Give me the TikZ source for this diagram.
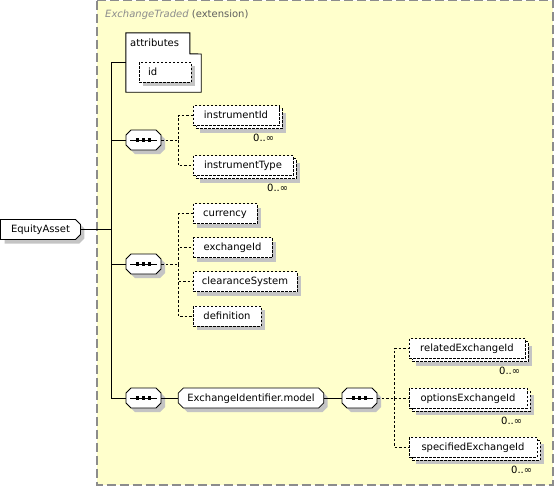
\documentclass[tikz,border=0pt]{standalone}
\usepackage{fontspec}
\setmainfont{DejaVu Sans}
\usetikzlibrary{positioning,shapes.misc,shadows}
\definecolor{extfill}{HTML}{FFFFCC}
\definecolor{extedge}{HTML}{8C8C8C}
\definecolor{shade}{HTML}{C4C4C4}
\definecolor{muted}{HTML}{8C8C8C}
\definecolor{muted2}{HTML}{5F5F5F}
\tikzset{
  every node/.style={font=\fontsize{10}{12}\selectfont, text height=8pt, text depth=2pt},
  ebase/.style ={draw, fill=white, dash pattern=on 2.5pt off 1.5pt, line width=0.8pt,
                 minimum height=20pt, inner sep=0pt},
  % optional element: dashed box with grey shadow
  elem/.style  ={ebase, drop shadow={shadow xshift=4pt, shadow yshift=-4pt,
                 fill=shade, opacity=1, draw=none}},
  % repeated element: stacked copy behind
  multi/.style ={ebase, drop shadow={shadow xshift=7pt, shadow yshift=-7pt,
                 fill=shade, opacity=1, draw=none},
                 copy shadow={shadow xshift=3pt, shadow yshift=-3pt, draw=black,
                 fill=white, dash pattern=on 2.5pt off 1.5pt, line width=0.8pt}},
  % octagon, 20pt high, 5pt chamfers
  chbox/.style ={chamfered rectangle, chamfered rectangle xsep=2.5pt,
                 chamfered rectangle ysep=2.5pt,
                 draw, fill=white, line width=0.8pt, inner xsep=6.5pt, inner ysep=2.5pt,
                 drop shadow={shadow xshift=4pt, shadow yshift=-4pt,
                 fill=shade, opacity=1, draw=none}},
  seq/.style   ={chbox, inner xsep=15pt,
                 path picture={
                   \draw[black, line width=0.9pt] ([xshift=4pt]path picture bounding box.west)
                     -- ([xshift=-4pt]path picture bounding box.east);
                   \foreach \d in {-6,0,6}
                     \fill[black] ([xshift=\d pt]path picture bounding box.center)
                       ++(-1.6pt,-1.6pt) rectangle ++(3.2pt,3.2pt);
                 }},
  occ/.style   ={inner sep=0pt, anchor=east},
  conn/.style  ={line width=0.9pt},
  link/.style  ={line width=0.8pt, dash pattern=on 2.5pt off 2pt},
}

\begin{document}
\begin{tikzpicture}[x=1pt,y=-1pt]
  \useasboundingbox (0,0) rectangle (556,491);
  % extension frame
  \draw[extedge, fill=extfill, line width=1.4pt, dash pattern=on 9pt off 4pt]
    (97,0.7) rectangle (553,485);
  \node[anchor=west, inner sep=0pt] (title) at (105,14)
    {\textcolor{muted}{\textit{ExchangeTraded}} \textcolor{muted2}{(extension)}};

  % root
  \node[chbox, chamfered rectangle corners={north east,south east},
        inner xsep=8pt] (eq) at (40.5,229.5) {EquityAsset};

  % attributes
  \node[minimum width=75pt, minimum height=59pt, inner sep=0pt] (attr) at (163.5,62.5) {};
  \draw[conn, fill=white] (attr.north west) -- ++(64,0) -- ++(0,21) -- (attr.east |- 0,54)
    -- (attr.south east) -- (attr.south west) -- cycle;
  \node[anchor=west, inner sep=0pt] (attrlbl) at (130,43) {attributes};
  \node[elem, inner xsep=9pt, text width=34pt, align=left] (id) at (165,72) {id};

  % sequences on the trunk
  \node[seq] (seq1) at (143.5,140) {};
  \node[seq] (seq2) at (143.5,264) {};
  \node[seq] (seq3) at (143.5,398) {};
  \coordinate (trk) at (111,229.5);
  \coordinate (trkend) at (111,398);
  \draw[conn] (eq.east) -- (trk);
  \draw[conn] (attr.west) -| (trkend) -- (seq3.west);
  \draw[conn] (seq1.west) -- (seq1.west -| trk);
  \draw[conn] (seq2.west) -- (seq2.west -| trk);

  % first sequence
  \node[multi, minimum width=86pt] (instId) at (236,115.5) {instrumentId};
  \node[multi, minimum width=100pt] (instType) at (243,165.5) {instrumentType};
  \node[occ] at ([xshift=-5pt,yshift=-13pt]instId.south east) {0..∞};
  \node[occ] at ([xshift=-5pt,yshift=-13pt]instType.south east) {0..∞};
  \coordinate (fork1) at (178,140);
  \draw[link] (seq1.east) -- (fork1) |- (instId.west);
  \draw[link] (fork1) |- (instType.west);

  % second sequence
  \node[elem, minimum width=64pt] (cur) at (225,213.5) {currency};
  \node[elem, minimum width=79pt] (exch) at (232.5,247.5) {exchangeId};
  \node[elem, minimum width=104pt] (clear) at (245,281.5) {clearanceSystem};
  \node[elem, minimum width=68pt] (defn) at (227,316) {definition};
  \coordinate (fork2) at (178,264);
  \draw[link] (seq2.east) -- (fork2);
  \draw[link] (fork2) |- (cur.west);
  \draw[link] (fork2) |- (exch.west);
  \draw[link] (fork2) |- (clear.west);
  \draw[link] (fork2) |- (defn.west);

  % group model
  \node[chbox] (model) at (251,398) {ExchangeIdentifier.model};
  \node[seq] (seq4) at (359.5,398) {};
  \draw[conn] (seq3.east) -- (model.west);
  \draw[conn] (model.east) -- (seq4.west);
  \node[multi, minimum width=116pt] (relEx) at (467,348.5) {relatedExchangeId};
  \node[multi, minimum width=118pt] (optEx) at (468,398) {optionsExchangeId};
  \node[multi, minimum width=128pt] (specEx) at (473,447) {specifiedExchangeId};
  \node[occ] at ([xshift=-5pt,yshift=-13pt]relEx.south east) {0..∞};
  \node[occ] at ([xshift=-5pt,yshift=-13pt]optEx.south east) {0..∞};
  \node[occ] at ([xshift=-5pt,yshift=-13pt]specEx.south east) {0..∞};
  \coordinate (fork4) at (394,398);
  \draw[link] (seq4.east) -- (fork4);
  \draw[link] (fork4) |- (relEx.west);
  \draw[link] (fork4) -- (optEx.west);
  \draw[link] (fork4) |- (specEx.west);
\end{tikzpicture}
\end{document}
